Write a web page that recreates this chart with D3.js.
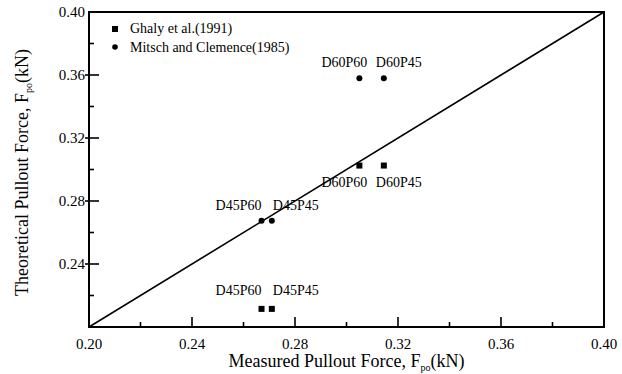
<!DOCTYPE html>
<html>
<head>
<meta charset="utf-8">
<script src="https://cdn.jsdelivr.net/npm/d3@7"></script>
<style>
  html, body { margin: 0; padding: 0; background: #fff; }
</style>
</head>
<body>
<svg id="chart" width="622" height="374" font-family="'Liberation Serif', 'DejaVu Serif', 'Times New Roman', serif"></svg>
<script>
// Specimen names and measured pullout force (kN)
const specimens = ["D45P60", "D45P45", "D60P60", "D60P45"];
const measured = [0.267, 0.271, 0.305, 0.3145];
// Theoretical pullout force (kN) by method
const ghaly = [0.2115, 0.2115, 0.3025, 0.3025];
const mitsch = [0.2675, 0.2675, 0.358, 0.358];
const seriesNames = ["Ghaly et al.(1991)", "Mitsch and Clemence(1985)"];
const majorTicks = [0.20, 0.24, 0.28, 0.32, 0.36, 0.40];
const minorTicks = [0.22, 0.26, 0.30, 0.34, 0.38];
const domain = [0.20, 0.40];

const svg = d3.select("#chart");
const margin = { left: 89, right: 18, top: 12, bottom: 47 };
const W = 622, H = 374;
const x = d3.scaleLinear().domain(domain).range([margin.left, W - margin.right]);
const y = d3.scaleLinear().domain(domain).range([H - margin.bottom, margin.top]);

// label offsets (px) from each point to the start of its text
const labelDx = [-46, 1, -38, -8];

// 1:1 reference line
svg.append("line")
  .attr("x1", x(domain[0])).attr("y1", y(domain[0]))
  .attr("x2", x(domain[1])).attr("y2", y(domain[1]))
  .attr("stroke", "#000").attr("stroke-width", 1.6);

// frame
svg.append("rect")
  .attr("x", x(domain[0])).attr("y", y(domain[1]))
  .attr("width", x(domain[1]) - x(domain[0]))
  .attr("height", y(domain[0]) - y(domain[1]))
  .attr("fill", "none").attr("stroke", "#000").attr("stroke-width", 2);

// x axis ticks (inward)
const gx = svg.append("g");
gx.selectAll("line.maj").data(majorTicks.slice(1, -1)).join("line")
  .attr("x1", d => x(d)).attr("x2", d => x(d))
  .attr("y1", y(domain[0])).attr("y2", y(domain[0]) - 10)
  .attr("stroke", "#000").attr("stroke-width", 1.6);
gx.selectAll("line.min").data(minorTicks).join("line")
  .attr("x1", d => x(d)).attr("x2", d => x(d))
  .attr("y1", y(domain[0])).attr("y2", y(domain[0]) - 5)
  .attr("stroke", "#000").attr("stroke-width", 1.6);
gx.selectAll("text").data(majorTicks).join("text")
  .attr("x", d => x(d)).attr("y", y(domain[0]) + 22)
  .attr("text-anchor", "middle").attr("font-size", 15)
  .text(d => d3.format(".2f")(d));

// y axis ticks
const gy = svg.append("g");
gy.selectAll("line.maj").data(majorTicks.slice(1, -1)).join("line")
  .attr("y1", d => y(d)).attr("y2", d => y(d))
  .attr("x1", x(domain[0]) - 4).attr("x2", x(domain[0]) + 10)
  .attr("stroke", "#000").attr("stroke-width", 1.6);
gy.selectAll("line.min").data(minorTicks).join("line")
  .attr("y1", d => y(d)).attr("y2", d => y(d))
  .attr("x1", x(domain[0])).attr("x2", x(domain[0]) + 5)
  .attr("stroke", "#000").attr("stroke-width", 1.6);
gy.selectAll("text").data(majorTicks.slice(1)).join("text")
  .attr("x", x(domain[0]) - 4).attr("y", d => y(d) + 5)
  .attr("text-anchor", "end").attr("font-size", 15)
  .text(d => d3.format(".2f")(d));

// axis titles
const xt = svg.append("text")
  .attr("x", (x(domain[0]) + x(domain[1])) / 2).attr("y", 367)
  .attr("text-anchor", "middle").attr("font-size", 18);
xt.append("tspan").text("Measured Pullout Force, F");
xt.append("tspan").attr("font-size", 10).attr("dy", 4).text("po");
xt.append("tspan").attr("dy", -4).text("(kN)");

const yt = svg.append("text")
  .attr("transform", `translate(28,${(y(domain[0]) + y(domain[1])) / 2 + 3}) rotate(-90)`)
  .attr("text-anchor", "middle").attr("font-size", 18);
yt.append("tspan").text("Theoretical Pullout Force, F");
yt.append("tspan").attr("font-size", 10).attr("dy", 4).text("po");
yt.append("tspan").attr("dy", -4).text("(kN)");

// Ghaly et al. points (squares)
const sq = 6;
svg.append("g").selectAll("rect").data(measured).join("rect")
  .attr("x", (d) => x(d) - sq / 2)
  .attr("y", (d, i) => y(ghaly[i]) - sq / 2)
  .attr("width", sq).attr("height", sq).attr("fill", "#000");

// Mitsch and Clemence points (circles)
svg.append("g").selectAll("circle").data(measured).join("circle")
  .attr("cx", d => x(d)).attr("cy", (d, i) => y(mitsch[i]))
  .attr("r", 3).attr("fill", "#000");

// specimen labels: above circles, below/above squares
const lab = svg.append("g").attr("font-size", 14);
lab.selectAll("text.c").data(specimens).join("text")
  .attr("x", (d, i) => x(measured[i]) + labelDx[i])
  .attr("y", (d, i) => y(mitsch[i]) - 11)
  .text(d => d);
lab.selectAll("text.s").data(specimens).join("text")
  .attr("x", (d, i) => x(measured[i]) + labelDx[i])
  .attr("y", (d, i) => i < 2 ? y(ghaly[i]) - 14 : y(ghaly[i]) + 21)
  .text(d => d);

// legend
const lg = svg.append("g");
lg.append("rect").attr("x", 112).attr("y", 26).attr("width", 6).attr("height", 6).attr("fill", "#000");
lg.append("circle").attr("cx", 115).attr("cy", 47).attr("r", 2.8).attr("fill", "#000");
lg.selectAll("text").data(seriesNames).join("text")
  .attr("x", 130).attr("y", (d, i) => 33 + i * 18.5)
  .attr("font-size", 14).text(d => d);
</script>
</body>
</html>
